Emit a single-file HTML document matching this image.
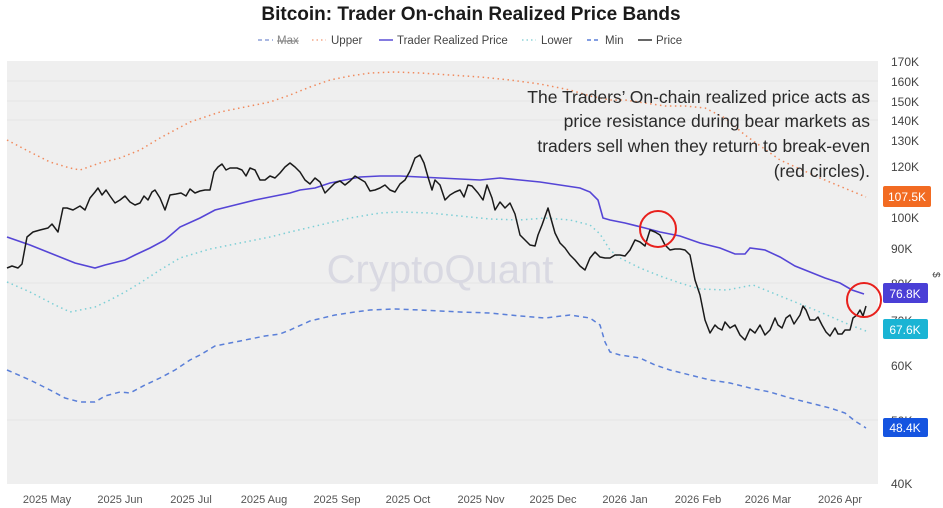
<!DOCTYPE html>
<html><head><meta charset="utf-8"><style>
body{margin:0;background:#fff;}
svg{display:block;font-family:"Liberation Sans",Arial,sans-serif;}
</style></head><body>
<svg width="943" height="508" viewBox="0 0 943 508" xmlns="http://www.w3.org/2000/svg">
<rect width="943" height="508" fill="#fff"/>
<text x="471" y="20" text-anchor="middle" font-size="19" font-weight="bold" fill="#1a1a1a">Bitcoin: Trader On-chain Realized Price Bands</text>
<g font-size="11.5" fill="#444">
<line x1="258" y1="40" x2="273" y2="40" stroke="#8da0d8" stroke-width="1.5" stroke-dasharray="4,3"/><text x="277" y="44" fill="#888" text-decoration="line-through">Max</text>
<line x1="312" y1="40" x2="326" y2="40" stroke="#f4a889" stroke-width="1.5" stroke-dasharray="1.5,3"/><text x="331" y="44">Upper</text>
<line x1="379" y1="40" x2="393" y2="40" stroke="#5b4fd6" stroke-width="1.5"/><text x="397" y="44">Trader Realized Price</text>
<line x1="522" y1="40" x2="536" y2="40" stroke="#8fd4d8" stroke-width="1.5" stroke-dasharray="1.5,3"/><text x="541" y="44">Lower</text>
<line x1="587" y1="40" x2="601" y2="40" stroke="#5a7fd8" stroke-width="1.5" stroke-dasharray="4,3"/><text x="605" y="44">Min</text>
<line x1="638" y1="40" x2="652" y2="40" stroke="#333" stroke-width="1.5"/><text x="656" y="44">Price</text>
</g>
<rect x="7" y="61" width="871" height="423" fill="#efefef"/>
<g stroke="#e6e6e6" stroke-width="1">
<line x1="7" y1="81" x2="878" y2="81"/><line x1="7" y1="101" x2="878" y2="101"/><line x1="7" y1="120" x2="878" y2="120"/>
<line x1="7" y1="283" x2="878" y2="283"/><line x1="7" y1="420" x2="878" y2="420"/>
</g>
<text x="440" y="283" text-anchor="middle" font-size="40" fill="#d9d9e2">CryptoQuant</text>
<polyline fill="none" stroke="#f08a5d" stroke-width="1.5" stroke-dasharray="1.5,3.5" points="7,140 30,152 50,162 70,168 80,170 100,163 120,158 140,150 160,138 190,122 220,112 250,106 270,102 290,95 310,87 330,80 350,76 370,73 395,72 420,73 450,75 480,77 510,80 540,84 570,90 590,96 610,100 625,100 645,103 665,106 685,106 705,108 725,118 745,135 780,160 820,178 866,197"/>
<polyline fill="none" stroke="#7ccfd6" stroke-width="1.5" stroke-dasharray="1.5,3.5" points="7,282 30,292 55,305 70,312 95,307 110,300 125,292 140,283 160,270 180,258 210,249 240,243 270,237 290,232 320,225 350,218 380,213 400,212 430,213 460,216 490,219 520,220 545,218 570,220 590,225 600,234 610,250 620,258 640,268 660,276 680,283 700,289 727,290 753,285 790,300 820,312 850,325 866,331"/>
<polyline fill="none" stroke="#5a7fd8" stroke-width="1.5" stroke-dasharray="5,4" points="7,370 30,380 50,390 65,398 80,402 95,402 105,396 120,392 130,393 145,385 160,378 175,370 190,360 200,355 215,346 230,343 250,339 265,336 280,334 290,330 310,321 335,315 355,312 370,310 395,309 420,310 440,311 460,312 490,313 520,316 545,318 570,315 590,318 600,325 605,342 610,352 620,355 640,358 655,365 670,370 690,375 710,380 730,383 750,388 770,392 790,398 810,403 830,408 845,413 855,421 866,428"/>
<polyline fill="none" stroke="#5545d6" stroke-width="1.6" points="7,237 30,245 55,255 75,263 95,268 105,265 125,260 135,255 150,248 165,240 180,227 200,218 215,210 235,205 255,200 275,196 290,193 300,190 315,188 330,183 345,180 360,177 380,176 400,176 420,177 440,178 460,179 480,180 500,178 520,180 540,182 560,185 580,188 590,192 598,200 603,218 610,220 625,223 645,228 660,232 680,236 700,243 720,248 735,254 745,254 750,248 765,250 780,257 795,266 810,272 825,278 840,283 852,290 864,294"/>
<polyline fill="none" stroke="#1a1a1a" stroke-width="1.5" stroke-linejoin="round" points="7,268 12,266 18,268 22,264 27,237 33,232 40,230 48,228 52,224 58,232 63,208 67,208 73,210 80,206 85,210 90,198 95,192 98,188 102,195 106,190 110,196 115,203 120,200 125,196 130,202 135,205 140,203 144,196 148,200 152,192 155,190 160,198 165,210 170,195 176,194 181,193 186,196 190,189 195,193 200,191 205,190 210,190 214,172 218,167 222,164 226,170 230,168 237,168 242,170 246,176 250,168 255,170 260,180 265,180 270,176 275,178 280,173 285,167 290,163 295,167 300,172 305,180 310,184 315,178 320,182 325,193 330,188 335,183 340,181 345,185 350,181 355,176 360,179 365,182 370,191 375,190 380,188 385,185 390,190 395,192 400,184 405,180 410,171 415,158 420,155 424,163 428,177 432,190 435,180 440,185 445,200 450,195 455,192 460,190 464,197 468,185 472,186 478,193 483,200 487,185 492,198 495,210 500,202 505,208 510,203 515,214 520,235 525,240 530,245 535,246 538,235 542,225 548,208 555,233 560,243 565,248 570,255 575,260 580,266 585,270 590,258 595,252 600,257 605,258 610,258 615,255 620,255 625,256 630,250 635,240 640,242 645,246 650,230 655,232 660,235 665,245 670,250 675,249 680,249 685,250 690,255 695,280 700,295 705,320 710,333 715,325 718,328 722,330 725,322 730,328 735,325 740,335 745,340 750,329 755,333 760,325 765,335 770,330 775,318 778,325 782,328 786,318 790,315 794,324 800,315 803,306 806,310 810,320 815,320 818,317 822,325 826,332 830,336 835,328 838,334 842,334 845,330 850,330 853,318 857,315 860,310 863,316 866,306"/>
<circle cx="658" cy="229" r="18" fill="none" stroke="#e8201c" stroke-width="2"/>
<circle cx="864" cy="300" r="17" fill="none" stroke="#e8201c" stroke-width="2"/>
<g font-size="17.5" fill="#2a2a2a" text-anchor="end">
<text x="870" y="103">The Traders’ On-chain realized price acts as</text>
<text x="870" y="127">price resistance during bear markets as</text>
<text x="870" y="152">traders sell when they return to break-even</text>
<text x="870" y="177">(red circles).</text>
</g>
<g font-size="12" fill="#444">
<text x="891" y="66">170K</text><text x="891" y="86">160K</text><text x="891" y="106">150K</text><text x="891" y="125">140K</text><text x="891" y="145">130K</text><text x="891" y="171">120K</text><text x="891" y="222">100K</text><text x="891" y="253">90K</text><text x="891" y="288">80K</text><text x="891" y="325">70K</text><text x="891" y="370">60K</text><text x="891" y="425">50K</text><text x="891" y="488">40K</text>
</g>
<text x="933" y="272" font-size="10" fill="#444" transform="rotate(90 933 272)">$</text>
<rect x="883" y="186" width="48" height="21" rx="2" fill="#f26b22"/><text x="907" y="201" text-anchor="middle" font-size="12" fill="#fff">107.5K</text>
<rect x="883" y="283" width="45" height="20" rx="2" fill="#4a3fd6"/><text x="905" y="298" text-anchor="middle" font-size="12" fill="#fff">76.8K</text>
<rect x="883" y="319" width="45" height="20" rx="2" fill="#1ab4d4"/><text x="905" y="334" text-anchor="middle" font-size="12" fill="#fff">67.6K</text>
<rect x="883" y="418" width="45" height="19" rx="2" fill="#1554e0"/><text x="905" y="432" text-anchor="middle" font-size="12" fill="#fff">48.4K</text>
<g font-size="11" fill="#555" text-anchor="middle">
<text x="47" y="503">2025 May</text><text x="120" y="503">2025 Jun</text><text x="191" y="503">2025 Jul</text><text x="264" y="503">2025 Aug</text><text x="337" y="503">2025 Sep</text><text x="408" y="503">2025 Oct</text><text x="481" y="503">2025 Nov</text><text x="553" y="503">2025 Dec</text><text x="625" y="503">2026 Jan</text><text x="698" y="503">2026 Feb</text><text x="768" y="503">2026 Mar</text><text x="840" y="503">2026 Apr</text>
</g>
</svg>
</body></html>
